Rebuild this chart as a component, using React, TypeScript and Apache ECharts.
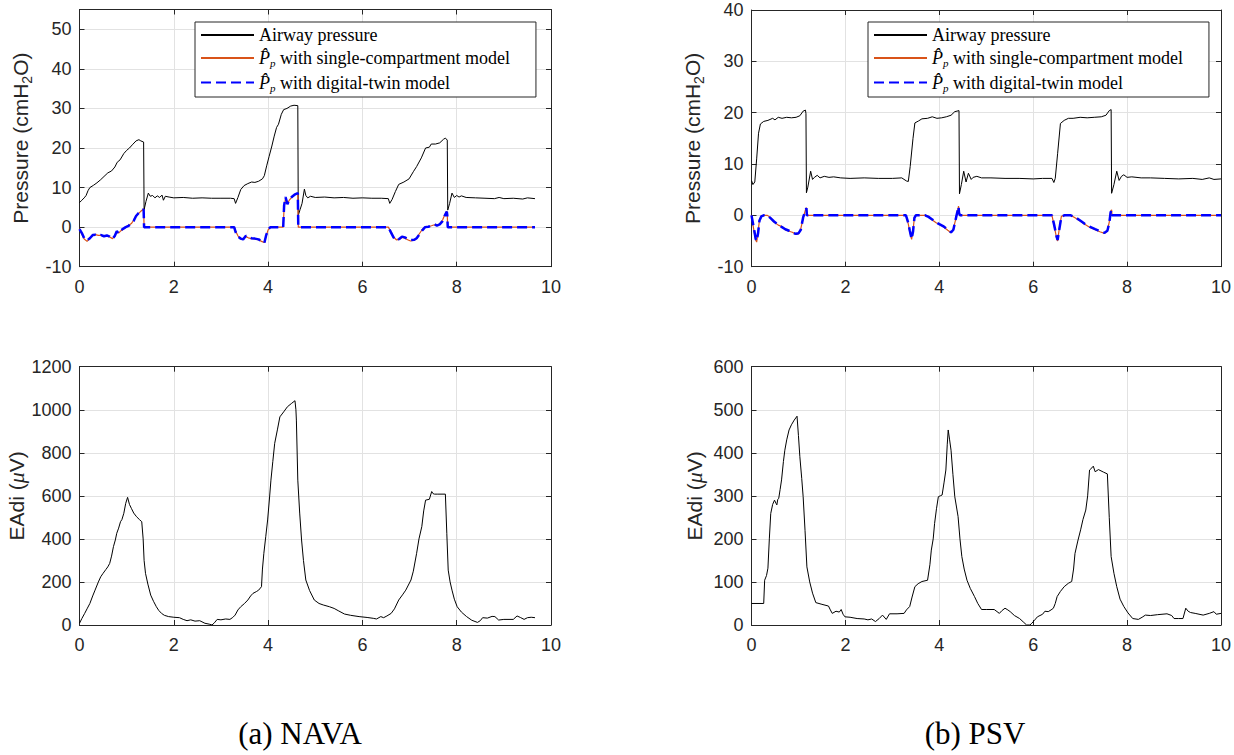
import React, { useEffect, useRef } from "react";
import * as echarts from "echarts";

// ---------- data (time in s, value) ----------
const navaAirway: number[][] = [
  [0, 6.2], [0.05, 6.8], [0.1, 7.4], [0.14, 8.0], [0.18, 9.2], [0.22, 10.0], [0.3, 10.6], [0.37, 11.2], [0.45, 12.0],
  [0.52, 12.8], [0.6, 13.7], [0.68, 14.2], [0.75, 15.2], [0.8, 16.4], [0.86, 17.0], [0.94, 18.6], [1.0, 19.4],
  [1.06, 20.0], [1.12, 20.8], [1.2, 21.8], [1.26, 22.1], [1.3, 21.8], [1.36, 21.5], [1.37, 4.4], [1.41, 6.5],
  [1.46, 8.6], [1.5, 7.8], [1.55, 8.0], [1.6, 7.4], [1.65, 7.9], [1.7, 7.5], [1.75, 8.1], [1.78, 6.8], [1.82, 7.8],
  [1.9, 7.6], [2.0, 7.4], [2.2, 7.5], [2.4, 7.3], [2.6, 7.4], [2.8, 7.3], [3.0, 7.3], [3.2, 7.3], [3.28, 7.2],
  [3.31, 6.0], [3.36, 7.5], [3.42, 9.5], [3.49, 10.5], [3.57, 11.0], [3.65, 11.4], [3.72, 11.3], [3.8, 11.6],
  [3.88, 12.2], [3.92, 13.0], [3.97, 15.5], [4.02, 17.8], [4.08, 20.5], [4.13, 23.0], [4.18, 25.2], [4.22, 26.0],
  [4.28, 28.5], [4.33, 29.7], [4.4, 30.0], [4.48, 30.6], [4.55, 30.8], [4.63, 30.7], [4.64, 3.0], [4.68, 4.5],
  [4.72, 6.0], [4.77, 9.6], [4.8, 8.0], [4.84, 7.4], [4.9, 7.8], [5.0, 7.5], [5.2, 7.6], [5.4, 7.4], [5.6, 7.5],
  [5.8, 7.3], [6.0, 7.4], [6.2, 7.3], [6.4, 7.3], [6.55, 7.2], [6.58, 6.0], [6.63, 7.0], [6.7, 9.0], [6.77, 10.8],
  [6.88, 11.4], [6.99, 12.2], [7.08, 14.0], [7.15, 15.3], [7.25, 17.5], [7.34, 20.0], [7.42, 20.2], [7.46, 21.0],
  [7.55, 21.0], [7.64, 21.3], [7.72, 22.2], [7.76, 22.5], [7.8, 22.0], [7.81, 4.3], [7.85, 6.0], [7.9, 8.6],
  [7.95, 7.5], [8.0, 8.0], [8.05, 7.6], [8.1, 7.9], [8.2, 7.5], [8.4, 7.4], [8.6, 7.3], [8.8, 7.2], [8.9, 7.5],
  [9.0, 7.2], [9.2, 7.3], [9.4, 7.1], [9.5, 7.4], [9.66, 7.2],
];

const navaPpSingle: number[][] = [
  [0, -0.4], [0.05, -1.8], [0.1, -3.0], [0.16, -3.6], [0.22, -2.9], [0.28, -2.1], [0.34, -1.9], [0.4, -2.1],
  [0.46, -2.1], [0.52, -2.2], [0.58, -2.2], [0.64, -2.5], [0.7, -2.9], [0.75, -2.3], [0.79, -1.2], [0.83, -1.5],
  [0.88, -0.9], [0.94, -0.4], [0.98, 0.0], [1.04, 0.4], [1.1, 0.9], [1.15, 1.8], [1.2, 2.9], [1.25, 3.4],
  [1.3, 4.0], [1.36, 4.6], [1.37, 0], [3.28, 0], [3.31, -1.0], [3.36, -2.2], [3.42, -3.0], [3.47, -3.0],
  [3.53, -2.4], [3.58, -2.7], [3.65, -2.9], [3.72, -3.0], [3.8, -3.2], [3.86, -3.6], [3.92, -3.9], [3.96, -2.2],
  [4.0, -0.7], [4.05, 0], [4.32, 0], [4.34, 5.0], [4.37, 7.3], [4.41, 6.0], [4.45, 6.8], [4.5, 7.5], [4.56, 8.1],
  [4.63, 8.5], [4.64, 0], [6.55, 0], [6.6, -1.0], [6.66, -2.5], [6.72, -3.2], [6.78, -3.1], [6.84, -2.6],
  [6.9, -2.8], [6.96, -3.2], [7.02, -3.5], [7.1, -3.3], [7.15, -2.9], [7.2, -1.8], [7.27, -0.6], [7.33, 0],
  [7.4, 0.1], [7.48, 0.4], [7.53, 0.6], [7.58, 0.5], [7.64, 0.8], [7.7, 1.8], [7.75, 3.2], [7.79, 4.0],
  [7.8, 3.0], [7.81, 0], [9.66, 0],
];

const navaPpTwin: number[][] = [
  [0, -0.5], [0.05, -1.5], [0.1, -2.8], [0.16, -3.4], [0.22, -2.8], [0.28, -2.0], [0.34, -1.9], [0.4, -2.2],
  [0.46, -2.0], [0.52, -2.3], [0.58, -2.1], [0.64, -2.4], [0.7, -3.0], [0.75, -2.2], [0.79, -1.0], [0.83, -1.6],
  [0.88, -0.8], [0.94, -0.3], [0.98, 0.0], [1.04, 0.3], [1.1, 1.0], [1.15, 1.6], [1.2, 2.8], [1.25, 3.5],
  [1.3, 4.0], [1.36, 4.5], [1.37, 0], [3.28, 0], [3.31, -1.2], [3.36, -2.4], [3.42, -2.9], [3.47, -3.1],
  [3.53, -2.2], [3.58, -2.6], [3.65, -2.8], [3.72, -2.9], [3.8, -3.1], [3.86, -3.5], [3.92, -4.0], [3.96, -2.0],
  [4.0, -0.6], [4.05, 0], [4.32, 0], [4.34, 5.5], [4.37, 7.6], [4.41, 5.8], [4.45, 7.0], [4.5, 7.6], [4.56, 8.2],
  [4.63, 8.6], [4.64, 0], [6.55, 0], [6.6, -1.2], [6.66, -2.6], [6.72, -3.4], [6.78, -3.0], [6.84, -2.4],
  [6.9, -2.6], [6.96, -3.0], [7.02, -3.3], [7.1, -3.2], [7.15, -2.8], [7.2, -2.0], [7.27, -0.8], [7.33, 0],
  [7.4, 0.1], [7.48, 0.5], [7.53, 0.7], [7.58, 0.4], [7.64, 0.7], [7.7, 1.5], [7.75, 3.0], [7.79, 3.9],
  [7.8, 3.0], [7.81, 0], [9.66, 0],
];

const navaEadi: number[][] = [
  [0, 8], [0.05, 30], [0.11, 54], [0.16, 75], [0.22, 100], [0.28, 135], [0.33, 162], [0.4, 200], [0.45, 224],
  [0.5, 240], [0.56, 258], [0.6, 270], [0.64, 286], [0.68, 320], [0.72, 364], [0.76, 395], [0.79, 426], [0.83, 450],
  [0.87, 480], [0.9, 490], [0.94, 519], [0.98, 565], [1.02, 593], [1.06, 560], [1.1, 542], [1.15, 520], [1.21, 503],
  [1.27, 490], [1.32, 480], [1.35, 400], [1.37, 300], [1.4, 240], [1.45, 190], [1.51, 139], [1.57, 110], [1.63, 85],
  [1.68, 68], [1.74, 54], [1.8, 45], [1.89, 39], [2.0, 36], [2.12, 34], [2.2, 26], [2.28, 20], [2.36, 24],
  [2.45, 18], [2.55, 20], [2.66, 8], [2.75, 4], [2.81, 0], [2.86, 10], [2.92, 26], [3.0, 24], [3.1, 28], [3.19, 26],
  [3.25, 35], [3.3, 46], [3.36, 70], [3.42, 85], [3.5, 100], [3.57, 116], [3.63, 135], [3.68, 147], [3.75, 155],
  [3.8, 162], [3.86, 178], [3.88, 260], [3.91, 333], [3.95, 410], [3.99, 488], [4.03, 590], [4.06, 673], [4.1, 760],
  [4.14, 844], [4.2, 910], [4.25, 967], [4.33, 990], [4.41, 1014], [4.5, 1030], [4.57, 1042], [4.59, 1000],
  [4.6, 952], [4.63, 673], [4.67, 520], [4.71, 395], [4.75, 300], [4.8, 209], [4.88, 160], [4.98, 116], [5.08, 100],
  [5.17, 93], [5.3, 85], [5.4, 77], [5.5, 65], [5.62, 51], [5.75, 45], [5.93, 39], [6.1, 35], [6.23, 31], [6.3, 28],
  [6.39, 39], [6.45, 34], [6.52, 42], [6.61, 54], [6.68, 75], [6.77, 116], [6.85, 140], [6.92, 162], [7.03, 209],
  [7.08, 250], [7.15, 333], [7.2, 400], [7.26, 457], [7.3, 530], [7.34, 580], [7.42, 584], [7.47, 620], [7.5, 610],
  [7.53, 608], [7.6, 608], [7.76, 608], [7.79, 426], [7.82, 255], [7.86, 200], [7.9, 162], [7.95, 120], [8.01, 85],
  [8.1, 60], [8.21, 39], [8.32, 22], [8.44, 12], [8.5, 20], [8.55, 34], [8.65, 32], [8.75, 40], [8.81, 39],
  [8.89, 23], [9.0, 26], [9.2, 26], [9.28, 42], [9.35, 35], [9.43, 26], [9.5, 34], [9.58, 36], [9.66, 34],
];

const psvAirway: number[][] = [
  [0, 6.8], [0.03, 6.0], [0.07, 6.5], [0.11, 11.0], [0.15, 16.0], [0.19, 17.8], [0.26, 18.3], [0.35, 18.5],
  [0.45, 18.9], [0.5, 18.6], [0.57, 19.1], [0.65, 18.9], [0.75, 19.1], [0.85, 19.0], [0.95, 19.1], [1.03, 19.4],
  [1.1, 20.3], [1.15, 20.5], [1.16, 19.8], [1.17, 4.4], [1.2, 5.5], [1.26, 8.6], [1.3, 7.0], [1.34, 7.4],
  [1.4, 7.8], [1.46, 7.3], [1.55, 7.6], [1.65, 7.4], [1.75, 7.5], [1.9, 7.3], [2.1, 7.2], [2.4, 7.3], [2.7, 7.2],
  [3.0, 7.2], [3.2, 7.3], [3.3, 6.7], [3.34, 6.6], [3.38, 9.5], [3.44, 15.0], [3.48, 18.0], [3.56, 18.4],
  [3.63, 18.8], [3.75, 18.9], [3.85, 19.2], [3.95, 18.9], [4.05, 19.0], [4.15, 19.2], [4.25, 19.5], [4.33, 20.2],
  [4.42, 20.4], [4.43, 4.2], [4.47, 6.0], [4.52, 8.6], [4.57, 6.5], [4.62, 8.2], [4.68, 7.0], [4.72, 7.4],
  [4.8, 7.6], [4.9, 7.3], [5.1, 7.3], [5.4, 7.2], [5.7, 7.2], [6.0, 7.1], [6.2, 7.2], [6.4, 7.2], [6.44, 6.4],
  [6.47, 7.2], [6.52, 12.0], [6.58, 17.9], [6.66, 18.5], [6.75, 18.9], [6.85, 18.9], [7.0, 19.1], [7.15, 19.0],
  [7.3, 19.1], [7.45, 19.2], [7.55, 19.5], [7.62, 20.4], [7.66, 20.6], [7.67, 4.3], [7.72, 6.0], [7.78, 8.6],
  [7.83, 6.8], [7.88, 7.6], [7.93, 7.9], [8.0, 7.4], [8.1, 7.5], [8.3, 7.3], [8.5, 7.3], [8.8, 7.2], [9.1, 7.1],
  [9.4, 7.2], [9.6, 7.0], [9.75, 7.3], [9.85, 7.0], [10, 7.1],
];

const psvPpSingle: number[][] = [
  [0, 0], [0.03, -1.8], [0.06, -3.4], [0.09, -4.8], [0.11, -5.2], [0.14, -3.2], [0.17, -0.9], [0.21, -0.1],
  [0.26, 0], [0.34, 0], [0.4, -0.4], [0.48, -1.3], [0.57, -1.9], [0.65, -2.2], [0.72, -2.8], [0.8, -3.1],
  [0.87, -3.3], [0.95, -3.7], [1.0, -3.6], [1.05, -2.6], [1.1, -0.6], [1.15, 1.1], [1.17, 1.5], [1.18, 0],
  [3.29, 0], [3.34, -1.7], [3.37, -3.1], [3.41, -4.7], [3.44, -3.0], [3.47, -0.4], [3.5, 0], [3.7, 0],
  [3.77, -0.2], [3.85, -0.9], [3.94, -1.5], [4.02, -1.8], [4.1, -2.3], [4.18, -2.9], [4.25, -3.4], [4.3, -2.6],
  [4.36, -0.4], [4.41, 1.8], [4.42, 0.5], [4.44, 0], [6.4, 0], [6.45, -2.2], [6.5, -4.5], [6.52, -5.0],
  [6.56, -2.3], [6.6, -0.2], [6.66, 0], [6.8, 0], [6.9, -0.5], [7.0, -1.1], [7.09, -1.7], [7.2, -2.3],
  [7.32, -2.8], [7.42, -3.2], [7.52, -3.5], [7.58, -2.9], [7.62, -1.3], [7.65, 0.7], [7.67, 1.1], [7.68, 0], [10, 0],
];

const psvPpTwin: number[][] = [
  [0, 0], [0.03, -1.5], [0.06, -3.0], [0.09, -4.6], [0.11, -5.0], [0.14, -3.5], [0.17, -1.0], [0.21, -0.2],
  [0.26, 0], [0.34, 0], [0.4, -0.5], [0.48, -1.2], [0.57, -1.8], [0.65, -2.3], [0.72, -2.7], [0.8, -3.0],
  [0.87, -3.4], [0.95, -3.6], [1.0, -3.5], [1.05, -2.8], [1.1, -0.4], [1.15, 1.0], [1.17, 1.4], [1.18, 0],
  [3.29, 0], [3.34, -1.5], [3.37, -2.9], [3.41, -4.6], [3.44, -3.2], [3.47, -0.5], [3.5, 0], [3.7, 0],
  [3.77, -0.3], [3.85, -0.8], [3.94, -1.4], [4.02, -1.8], [4.1, -2.2], [4.18, -2.8], [4.25, -3.3], [4.3, -2.8],
  [4.36, -0.3], [4.41, 1.7], [4.42, 0.5], [4.44, 0], [6.4, 0], [6.45, -2.0], [6.5, -4.2], [6.52, -4.8],
  [6.56, -2.5], [6.6, -0.3], [6.66, 0], [6.8, 0], [6.9, -0.4], [7.0, -1.0], [7.09, -1.6], [7.2, -2.2],
  [7.32, -2.7], [7.42, -3.1], [7.52, -3.4], [7.58, -3.0], [7.62, -1.5], [7.65, 0.6], [7.67, 1.0], [7.68, 0], [10, 0],
];

const psvEadi: number[][] = [
  [0, 50], [0.26, 50], [0.28, 104], [0.32, 115], [0.35, 132], [0.38, 200], [0.41, 259], [0.45, 280], [0.49, 290],
  [0.52, 283], [0.54, 279], [0.56, 292], [0.58, 294], [0.61, 315], [0.64, 337], [0.68, 380], [0.71, 406],
  [0.75, 430], [0.8, 453], [0.85, 465], [0.91, 476], [0.97, 485], [1.0, 440], [1.03, 391], [1.07, 340], [1.1, 298],
  [1.14, 220], [1.18, 135], [1.24, 100], [1.3, 74], [1.37, 52], [1.5, 48], [1.64, 44], [1.68, 35], [1.72, 27],
  [1.8, 32], [1.87, 30], [1.91, 36], [1.95, 25], [1.99, 19], [2.1, 18], [2.25, 15], [2.4, 14], [2.48, 12],
  [2.56, 14], [2.64, 8], [2.72, 15], [2.79, 23], [2.87, 13], [2.94, 26], [3.1, 26], [3.25, 27], [3.3, 35],
  [3.37, 43], [3.42, 65], [3.48, 89], [3.55, 96], [3.63, 101], [3.75, 104], [3.8, 140], [3.83, 174], [3.87, 200],
  [3.9, 236], [3.94, 270], [3.98, 298], [4.02, 300], [4.06, 302], [4.1, 330], [4.14, 360], [4.17, 420], [4.19, 453],
  [4.22, 430], [4.25, 406], [4.29, 350], [4.33, 298], [4.4, 252], [4.44, 200], [4.48, 159], [4.53, 130],
  [4.59, 104], [4.66, 85], [4.75, 66], [4.82, 50], [4.9, 36], [5.0, 36], [5.17, 36], [5.28, 27], [5.33, 33],
  [5.4, 39], [5.46, 35], [5.51, 31], [5.6, 22], [5.71, 15], [5.8, 6], [5.86, 0], [5.93, 0], [5.97, 4], [6.02, 10],
  [6.09, 19], [6.2, 25], [6.25, 32], [6.32, 31], [6.38, 35], [6.43, 39], [6.47, 50], [6.51, 66], [6.58, 78],
  [6.66, 89], [6.75, 97], [6.82, 101], [6.86, 130], [6.89, 166], [6.95, 195], [7.01, 221], [7.06, 245],
  [7.12, 267], [7.16, 300], [7.2, 360], [7.25, 365], [7.28, 369], [7.32, 356], [7.39, 361], [7.5, 355],
  [7.58, 351], [7.62, 250], [7.66, 159], [7.72, 120], [7.78, 89], [7.85, 60], [7.93, 43], [8.02, 28], [8.12, 15],
  [8.24, 13], [8.32, 18], [8.39, 23], [8.5, 22], [8.65, 24], [8.85, 26], [8.95, 22], [9.0, 15], [9.1, 15],
  [9.19, 15], [9.25, 39], [9.3, 32], [9.35, 29], [9.45, 27], [9.62, 23], [9.75, 27], [9.85, 31], [9.9, 25], [10, 27],
];

const seriesNames = [
  "Airway pressure",
  "P̂p with single-compartment model",
  "P̂p with digital-twin model",
];
const captions = ["(a) NAVA", "(b) PSV"];

// ---------- styling ----------
const AX = "#262626";
const GRIDC = "#e2e2e2";
const SANS = "'Liberation Sans', Arial, sans-serif";
const SERIF = "'Liberation Serif', 'Times New Roman', serif";

const grids = [
  { left: 79.5, top: 9.5, width: 471.5, height: 257.2 },
  { left: 751.5, top: 10, width: 471.5, height: 256.7 },
  { left: 79.5, top: 366.7, width: 471.5, height: 258.3 },
  { left: 751.5, top: 366.7, width: 471.5, height: 258.3 },
];
const yCfg = [
  { min: -10, max: 55, interval: 10, name: "{a|Pressure (cmH}{b|2}{a|O)}" },
  { min: -10, max: 40, interval: 10, name: "{a|Pressure (cmH}{b|2}{a|O)}" },
  { min: 0, max: 1200, interval: 200, name: "{a|EAdi (}{m|μ}{a|V)}" },
  { min: 0, max: 600, interval: 100, name: "{a|EAdi (}{m|μ}{a|V)}" },
];

export default function App() {
  const ref = useRef<HTMLDivElement>(null);
  useEffect(() => {
    if (!ref.current) return;
    const chart = echarts.init(ref.current, undefined, { renderer: "svg" });

    const xAxis: any[] = [];
    const yAxis: any[] = [];
    grids.forEach((_, i) => {
      xAxis.push({
        type: "value", gridIndex: i, min: 0, max: 10, interval: 2, position: "bottom",
        axisLine: { show: true, onZero: false, lineStyle: { color: AX, width: 1 } },
        axisTick: { show: true, inside: true, length: 5, lineStyle: { color: AX } },
        axisLabel: { color: AX, fontFamily: SANS, fontSize: 18, margin: 11 },
        splitLine: { show: true, lineStyle: { color: GRIDC, width: 1 } },
      });
      xAxis.push({
        type: "value", gridIndex: i, min: 0, max: 10, interval: 2, position: "top",
        axisLine: { show: true, onZero: false, lineStyle: { color: AX, width: 1 } },
        axisTick: { show: true, inside: true, length: 5, lineStyle: { color: AX } },
        axisLabel: { show: false }, splitLine: { show: false },
      });
      const c = yCfg[i];
      yAxis.push({
        type: "value", gridIndex: i, min: c.min, max: c.max, interval: c.interval, position: "left",
        axisLine: { show: true, onZero: false, lineStyle: { color: AX, width: 1 } },
        axisTick: { show: true, inside: true, length: 5, lineStyle: { color: AX } },
        axisLabel: {
          color: AX, fontFamily: SANS, fontSize: 18, margin: 8,
          formatter: (v: number) => ((v - c.min) % c.interval === 0 ? String(v) : ""),
        },
        splitLine: { show: true, lineStyle: { color: GRIDC, width: 1 } },
        name: c.name, nameLocation: "middle", nameRotate: 90, nameGap: 46,
        nameTextStyle: {
          rich: {
            a: { fontFamily: SANS, fontSize: 21, color: AX },
            b: { fontFamily: SANS, fontSize: 14, color: AX, padding: [12, 0, 0, 0] },
            m: { fontFamily: SERIF, fontStyle: "italic", fontSize: 22, color: AX },
          },
        },
      });
      yAxis.push({
        type: "value", gridIndex: i, min: c.min, max: c.max, interval: c.interval, position: "right",
        axisLine: { show: true, onZero: false, lineStyle: { color: AX, width: 1 } },
        axisTick: { show: true, inside: true, length: 5, lineStyle: { color: AX } },
        axisLabel: { show: false }, splitLine: { show: false },
      });
    });

    const line = (name: string, data: number[][], g: number, color: string, width: number, dashed = false) => ({
      type: "line", name, data, xAxisIndex: g * 2, yAxisIndex: g * 2, symbol: "none", showSymbol: false,
      lineStyle: { color, width, type: dashed ? [10, 5] : "solid" },
      itemStyle: { color }, silent: true,
    });

    const series = [
      line(seriesNames[0], navaAirway, 0, "#000000", 1),
      line(seriesNames[1], navaPpSingle, 0, "#D95319", 1.2),
      line(seriesNames[2], navaPpTwin, 0, "#0000FF", 2.5, true),
      line(seriesNames[0], psvAirway, 1, "#000000", 1),
      line(seriesNames[1], psvPpSingle, 1, "#D95319", 1.2),
      line(seriesNames[2], psvPpTwin, 1, "#0000FF", 2.5, true),
      line("EAdi NAVA", navaEadi, 2, "#000000", 1),
      line("EAdi PSV", psvEadi, 3, "#000000", 1),
    ];

    const legendFormatter = (name: string) => {
      if (name === seriesNames[0]) return "{t|Airway pressure}";
      const rest = name.slice(3);
      return "{i|P̂}{s|p}{t|" + rest + "}";
    };
    const legendRich = {
      t: { fontFamily: SERIF, fontSize: 18, color: "#000", lineHeight: 20 },
      i: { fontFamily: SERIF, fontSize: 18, fontStyle: "italic", color: "#000", lineHeight: 20 },
      s: { fontFamily: SERIF, fontSize: 11, fontStyle: "italic", color: "#000", padding: [10, 0, 0, 0] },
    };
    const mkLegend = (left: number) => ({
      left, top: 22, orient: "vertical", data: seriesNames,
      itemWidth: 53, itemHeight: 1, itemGap: 5,
      padding: [4, 26, 4, 5],
      itemStyle: { opacity: 0, borderWidth: 0 },
      backgroundColor: "#ffffff", borderColor: AX, borderWidth: 1, borderRadius: 0,
      selectedMode: false, formatter: legendFormatter,
      textStyle: { fontFamily: SERIF, fontSize: 18, color: "#000", rich: legendRich },
    });

    chart.setOption({
      animation: false,
      backgroundColor: "#ffffff",
      grid: grids.map((g) => ({ ...g, containLabel: false })),
      xAxis, yAxis, series,
      legend: [mkLegend(195), mkLegend(868)],
      graphic: [
        { type: "text", x: 300, y: 733, style: { text: captions[0], font: `31px ${SERIF}`, fill: "#000", textAlign: "center", textVerticalAlign: "middle" } },
        { type: "text", x: 975, y: 733, style: { text: captions[1], font: `31px ${SERIF}`, fill: "#000", textAlign: "center", textVerticalAlign: "middle" } },
      ],
    });
    return () => chart.dispose();
  }, []);
  return <div ref={ref} style={{ position: "absolute", left: 0, top: 0, width: 1234, height: 755 }} />;
}
